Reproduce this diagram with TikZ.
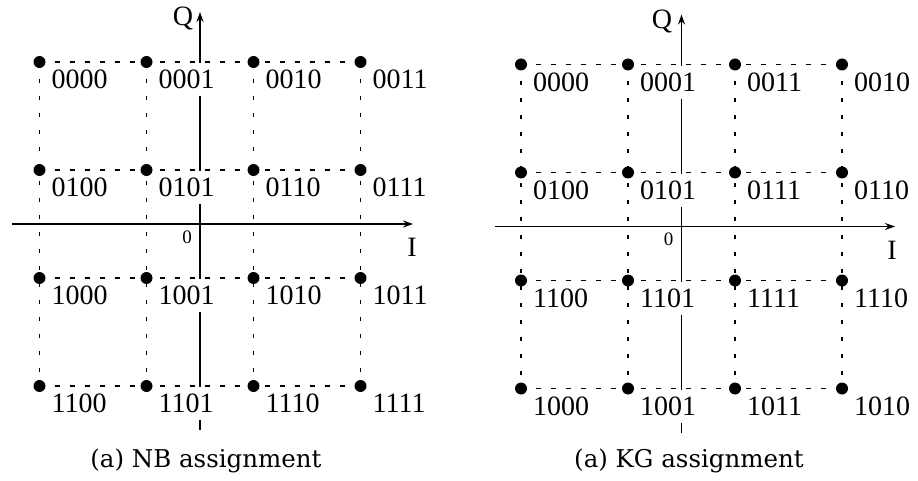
\documentclass[tikz,border=0pt]{standalone}
\usepackage{fontspec}
\usetikzlibrary{arrows.meta}
\setmainfont{Liberation Serif}
\newfontfamily\capfont{DejaVu Serif}
\begin{document}
\begin{tikzpicture}[x=1pt,y=-1pt,
  hline/.style={line width=1.4pt, dash pattern=on 5pt off 10pt},
  vline/.style={line width=1.5pt, dash pattern=on 4pt off 13pt},
  axis/.style={line width=1.8pt, -{Stealth[length=10pt,width=7pt]}},
  dotpt/.style={circle, fill=black, inner sep=0pt, minimum size=12pt},
  lbl/.style={anchor=north west, fill=white, inner xsep=2pt, inner ysep=0pt,
    minimum height=33pt, font=\fontsize{28}{32}\selectfont},
  axlbl/.style={font=\fontsize{28}{32}\selectfont},
  zerolbl/.style={font=\fontsize{19}{22}\selectfont},
  caption/.style={font=\capfont\fontsize{24.5}{28}\selectfont}]
\useasboundingbox (0,0) rectangle (918,481);

% ---------- left: NB ----------
\begin{scope}[shift={(200,224)}]
  \foreach \c/\x in {1/-160.5,2/-53.5,3/53.5,4/160.5}
    \foreach \r/\y in {1/-162,2/-54,3/54,4/162}
      \coordinate (La\r\c) at (\x,\y);
  \coordinate (LQs) at (0,206);
  \coordinate (LQe) at (0,-212);
  \coordinate (LIs) at (-188,0);
  \coordinate (LIe) at (213,0);
  \foreach \r in {1,2,3,4} \draw[hline] (La\r1) -- (La\r4);
  \foreach \c in {1,2,3,4} \draw[vline] (La1\c) -- (La4\c);
  \draw[axis] (LQs) -- (LQe);
  \draw[axis] (LIs) -- (LIe);
  \node[axlbl] (LQ) at (-17,-205) {Q};
  \node[axlbl] (LI) at (212,23) {I};
  \node[zerolbl] (L0) at (-13,13) {0};
  \foreach \r/\c/\t in {1/1/0000,1/2/0001,1/3/0010,1/4/0011,
                        2/1/0100,2/2/0101,2/3/0110,2/4/0111,
                        3/1/1000,3/2/1001,3/3/1010,3/4/1011,
                        4/1/1100,4/2/1101,4/3/1110,4/4/1111}
    \node[lbl] (Lt\r\c) at ([shift={(10,1)}]La\r\c) {\t};
  \foreach \r in {1,2,3,4} \foreach \c in {1,2,3,4}
    \node[dotpt] (Ld\r\c) at (La\r\c) {};
  \node[caption] (Lcap) at (6,237) {(a) NB assignment};
\end{scope}

% ---------- right: KG ----------
\begin{scope}[shift={(681.5,226.5)}]
  \foreach \c/\x in {1/-160.5,2/-53.5,3/53.5,4/160.5}
    \foreach \r/\y in {1/-162,2/-54,3/54,4/162}
      \coordinate (Ra\r\c) at (\x,\y);
  \coordinate (RQs) at (0,206);
  \coordinate (RQe) at (0,-212);
  \coordinate (RIs) at (-186.5,0);
  \coordinate (RIe) at (213.5,0);
  \foreach \r in {1,2,3,4} \draw[hline] (Ra\r1) -- (Ra\r4);
  \foreach \c in {1,2,3,4} \draw[vline] (Ra1\c) -- (Ra4\c);
  \draw[axis] (RQs) -- (RQe);
  \draw[axis] (RIs) -- (RIe);
  \node[axlbl] (RQ) at (-19.5,-205) {Q};
  \node[axlbl] (RI) at (210.5,23.5) {I};
  \node[zerolbl] (R0) at (-13,13) {0};
  \foreach \r/\c/\t in {1/1/0000,1/2/0001,1/3/0011,1/4/0010,
                        2/1/0100,2/2/0101,2/3/0111,2/4/0110,
                        3/1/1100,3/2/1101,3/3/1111,3/4/1110,
                        4/1/1000,4/2/1001,4/3/1011,4/4/1010}
    \node[lbl] (Rt\r\c) at ([shift={(10,1)}]Ra\r\c) {\t};
  \foreach \r in {1,2,3,4} \foreach \c in {1,2,3,4}
    \node[dotpt] (Rd\r\c) at (Ra\r\c) {};
  \node[caption] (Rcap) at (7.5,234.5) {(a) KG assignment};
\end{scope}
\end{tikzpicture}
\end{document}
